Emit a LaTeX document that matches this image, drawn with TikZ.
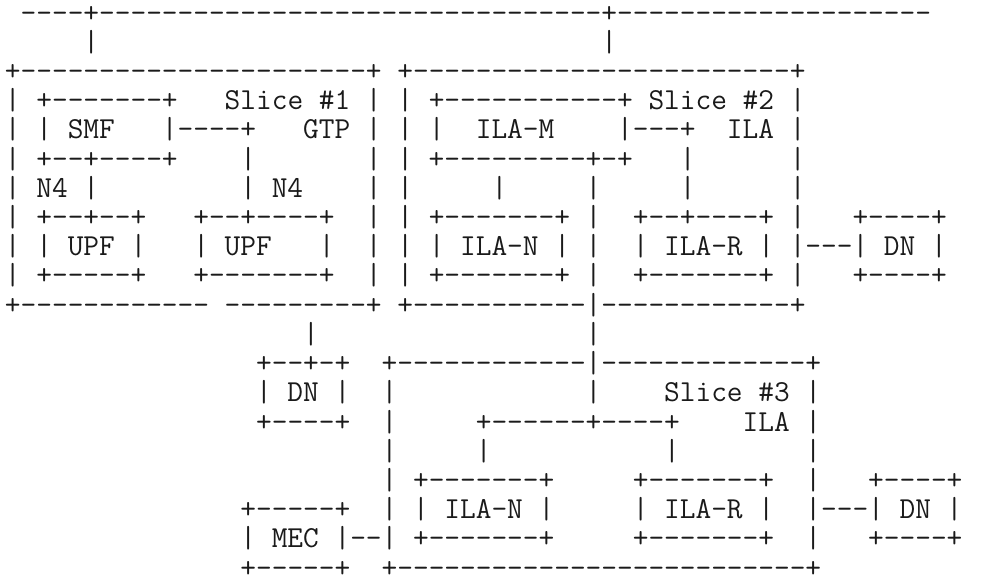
\documentclass[tikz,border=0pt]{standalone}
\usepackage{fontspec}
\ExplSyntaxOn
\cs_new:Npn \dsh #1 {\prg_replicate:nn{#1}{-}}
\ExplSyntaxOff
\newcommand\sk[1]{\hspace*{#1\fontdimen2\font}}
\definecolor{ink}{HTML}{1A1A1A}
\tikzset{
  txt/.style={inner sep=0pt, outer sep=0pt, anchor=base west, text=ink,
    font=\fontsize{30.47619pt}{32pt}\selectfont\ttfamily}
}
\newcommand\rowat[3]{\node[txt] (#1) at (5,{22.0+29.22*(#2-1)}) {#3};}
\begin{document}
\begin{tikzpicture}[x=1pt,y=-1pt]
\useasboundingbox (0,0) rectangle (981,581);
\rowat{r1}{1}{\sk{1}\dsh{4}+\dsh{32}+\dsh{20}}
\rowat{r2}{2}{\sk{5}|\sk{32}|}
\rowat{r3}{3}{+\dsh{22}+\sk{1}+\dsh{24}+}
\rowat{r4}{4}{|\sk{1}+\dsh{7}+\sk{3}Slice~\#1\sk{1}|\sk{1}|\sk{1}+\dsh{11}+\sk{1}Slice~\#2\sk{1}|}
\rowat{r5}{5}{|\sk{1}|\sk{1}SMF\sk{3}|\dsh{4}+\sk{3}GTP\sk{1}|\sk{1}|\sk{1}|\sk{2}ILA-M\sk{4}|\dsh{3}+\sk{2}ILA\sk{1}|}
\rowat{r6}{6}{|\sk{1}+\dsh{2}+\dsh{4}+\sk{4}|\sk{7}|\sk{1}|\sk{1}+\dsh{9}+\dsh{1}+\sk{3}|\sk{6}|}
\rowat{r7}{7}{|\sk{1}N4\sk{1}|\sk{9}|\sk{1}N4\sk{4}|\sk{1}|\sk{5}|\sk{5}|\sk{5}|\sk{6}|}
\rowat{r8}{8}{|\sk{1}+\dsh{2}+\dsh{2}+\sk{3}+\dsh{2}+\dsh{4}+\sk{2}|\sk{1}|\sk{1}+\dsh{7}+\sk{1}|\sk{2}+\dsh{2}+\dsh{4}+\sk{1}|\sk{3}+\dsh{4}+}
\rowat{r9}{9}{|\sk{1}|\sk{1}UPF\sk{1}|\sk{3}|\sk{1}UPF\sk{3}|\sk{2}|\sk{1}|\sk{1}|\sk{1}ILA-N\sk{1}|\sk{1}|\sk{2}|\sk{1}ILA-R\sk{1}|\sk{1}|\dsh{3}|\sk{1}DN\sk{1}|}
\rowat{r10}{10}{|\sk{1}+\dsh{5}+\sk{3}+\dsh{7}+\sk{2}|\sk{1}|\sk{1}+\dsh{7}+\sk{1}|\sk{2}+\dsh{7}+\sk{1}|\sk{3}+\dsh{4}+}
\rowat{r11}{11}{+\dsh{12}\sk{1}\dsh{9}+\sk{1}+\dsh{11}|\dsh{12}+}
\rowat{r12}{12}{\sk{19}|\sk{17}|}
\rowat{r13}{13}{\sk{16}+\dsh{2}+\dsh{1}+\sk{2}+\dsh{12}|\dsh{13}+}
\rowat{r14}{14}{\sk{16}|\sk{1}DN\sk{1}|\sk{2}|\sk{12}|\sk{4}Slice~\#3\sk{1}|}
\rowat{r15}{15}{\sk{16}+\dsh{4}+\sk{2}|\sk{5}+\dsh{6}+\dsh{4}+\sk{4}ILA\sk{1}|}
\rowat{r16}{16}{\sk{24}|\sk{5}|\sk{11}|\sk{8}|}
\rowat{r17}{17}{\sk{24}|\sk{1}+\dsh{7}+\sk{5}+\dsh{7}+\sk{2}|\sk{3}+\dsh{4}+}
\rowat{r18}{18}{\sk{15}+\dsh{5}+\sk{2}|\sk{1}|\sk{1}ILA-N\sk{1}|\sk{5}|\sk{1}ILA-R\sk{1}|\sk{2}|\dsh{3}|\sk{1}DN\sk{1}|}
\rowat{r19}{19}{\sk{15}|\sk{1}MEC\sk{1}|\dsh{2}|\sk{1}+\dsh{7}+\sk{5}+\dsh{7}+\sk{2}|\sk{3}+\dsh{4}+}
\rowat{r20}{20}{\sk{15}+\dsh{5}+\sk{2}+\dsh{26}+}
\end{tikzpicture}
\end{document}
